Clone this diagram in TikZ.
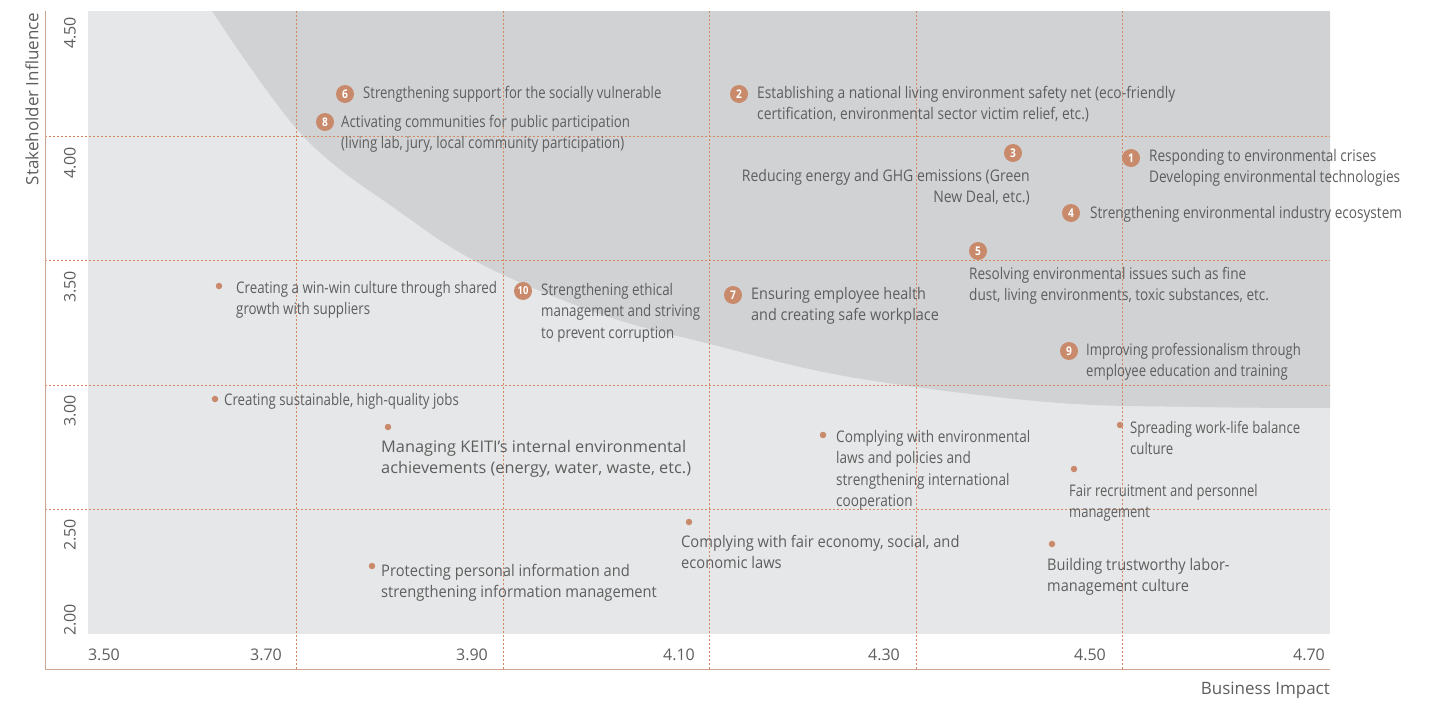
\documentclass[tikz,border=0pt]{standalone}
\usepackage{fontspec}
\setmainfont{Open Sans}[FakeStretch=0.85]
\newfontfamily\tickfont{Open Sans}
\usetikzlibrary{calc}
\definecolor{lightbg}{HTML}{E6E7E8}
\definecolor{darkbg}{HTML}{D1D2D4}
\definecolor{accent}{HTML}{C98A6C}
\definecolor{gridc}{HTML}{D4875E}
\definecolor{axisc}{HTML}{CFA58E}
\definecolor{txt}{HTML}{5E5E5E}
\tikzset{
  lbl/.style={inner sep=0pt, align=left, text=txt, font=\fontsize{16}{21.3}\selectfont, anchor=north west, yshift=-1.5pt},
  lblr/.style={lbl, align=right, anchor=north east},
  sx/.style={xscale=#1, transform shape},
  numc/.style={circle, fill=accent, minimum size=18pt, inner sep=0pt, text=white, font=\bfseries\fontsize{12}{12}\selectfont},
  dotc/.style={circle, fill=accent, minimum size=6.5pt, inner sep=0pt},
  gridl/.style={gridc, dash pattern=on 2pt off 2pt, line width=0.7pt},
  tick/.style={text=txt, font=\tickfont\fontsize{16}{16}\selectfont, inner sep=0pt},
  axtitle/.style={text=txt, font=\tickfont\fontsize{17}{17}\selectfont, inner sep=0pt}
}
\begin{document}
\begin{tikzpicture}[x=1pt,y=-1pt]
\useasboundingbox (0,0) rectangle (1438,704);
% plot background
\fill[lightbg] (88,11) rectangle (1330,634);
\fill[darkbg] plot[smooth, tension=0.6] coordinates {(212,11) (303,136) (400,212) (481,264) (600,314) (710,344) (850,377) (1047,402) (1200,407) (1330,408)} -- (1330,11) -- cycle;
% grid
\foreach \x in {296,503,709,916,1122} \draw[gridl] (\x,11) -- (\x,669);
\foreach \y in {136,260,385,509} \draw[gridl] (45,\y) -- (1330,\y);
% axes
\coordinate (o) at (45,669);
\coordinate (ytop) at (45,11);
\coordinate (xend) at (1330,669);
\draw[axisc, line width=1pt] (ytop) -- (o) -- (xend);
% tick labels
\node[tick, anchor=east] (x350) at (120,655) {3.50};
\node[tick, anchor=east] (x370) at (282,655) {3.70};
\node[tick, anchor=east] (x390) at (488,655) {3.90};
\node[tick, anchor=east] (x410) at (695,655) {4.10};
\node[tick, anchor=east] (x430) at (900,655) {4.30};
\node[tick, anchor=east] (x450) at (1106,655) {4.50};
\node[tick, anchor=east] (x470) at (1325,655) {4.70};
\node[tick, rotate=90] (y450) at (70,33) {4.50};
\node[tick, rotate=90] (y400) at (70,163) {4.00};
\node[tick, rotate=90] (y350) at (70,287) {3.50};
\node[tick, rotate=90] (y300) at (70,411) {3.00};
\node[tick, rotate=90] (y250) at (70,535) {2.50};
\node[tick, rotate=90] (y200) at (70,620) {2.00};
\node[axtitle, rotate=90] (ytitle) at (32,99) {Stakeholder Influence};
\node[axtitle, anchor=east] (xtitle) at (1330,690) {Business Impact};
% numbered items
\node[numc] (n1) at (1131,158) {1};
\node[lbl] (t1) at (1149,145) {\strut Responding to environmental crises\\Developing environmental technologies};
\node[numc] (n2) at (739,94) {2};
\node[lbl, sx=1.015] (t2) at (757,82) {\strut Establishing a national living environment safety net (eco-friendly\\certification, environmental sector victim relief, etc.)};
\node[numc] (n3) at (1013,153) {3};
\node[lblr, sx=1.03] (t3) at (1030,165) {\strut Reducing energy and GHG emissions (Green\\New Deal, etc.)};
\node[numc] (n4) at (1071,213) {4};
\node[lbl] (t4) at (1090,202) {\strut Strengthening environmental industry ecosystem};
\node[numc] (n5) at (978,251) {5};
\node[lbl] (t5) at (969,263) {\strut Resolving environmental issues such as fine\\dust, living environments, toxic substances, etc.};
\node[numc] (n6) at (345,94) {6};
\node[lbl, sx=0.965] (t6) at (363,82) {\strut Strengthening support for the socially vulnerable};
\node[numc] (n7) at (733,295) {7};
\node[lbl, sx=1.06] (t7) at (751,283) {\strut Ensuring employee health\\and creating safe workplace};
\node[numc] (n8) at (325,122) {8};
\node[lbl, sx=0.978] (t8) at (341,111) {\strut Activating communities for public participation\\(living lab, jury, local community participation)};
\node[numc] (n9) at (1069,351) {9};
\node[lbl, sx=0.965] (t9) at (1086,339) {\strut Improving professionalism through\\employee education and training};
\node[numc, font=\bfseries\fontsize{11}{11}\selectfont] (n10) at (523,291) {10};
\node[lbl, sx=0.98] (t10) at (541,279) {\strut Strengthening ethical\\management and striving\\to prevent corruption};
% dot items
\node[dotc] (d1) at (219,286) {};
\node[lbl, sx=0.98] (e1) at (236,277) {\strut Creating a win-win culture through shared\\growth with suppliers};
\node[dotc] (d2) at (215,399) {};
\node[lbl, sx=0.975] (e2) at (224,389) {\strut Creating sustainable, high-quality jobs};
\node[dotc] (d3) at (388,427) {};
\node[lbl, sx=1.2] (e3) at (381,436) {\strut Managing KEITI's internal environmental\\achievements (energy, water, waste, etc.)};
\node[dotc] (d4) at (823,435) {};
\node[lbl] (e4) at (836,426) {\strut Complying with environmental\\laws and policies and\\strengthening international\\cooperation};
\node[dotc] (d5) at (1120,425) {};
\node[lbl, sx=0.97] (e5) at (1130,417) {\strut Spreading work-life balance\\culture};
\node[dotc] (d6) at (1074,469) {};
\node[lbl, sx=0.955] (e6) at (1069,480) {\strut Fair recruitment and personnel\\management};
\node[dotc] (d7) at (689,522) {};
\node[lbl, sx=1.08] (e7) at (681,531) {\strut Complying with fair economy, social, and\\economic laws};
\node[dotc] (d8) at (372,566) {};
\node[lbl, sx=1.08] (e8) at (381,560) {\strut Protecting personal information and\\strengthening information management};
\node[dotc] (d9) at (1052,544) {};
\node[lbl, sx=1.07] (e9) at (1047,554) {\strut Building trustworthy labor-\\management culture};
\end{tikzpicture}
\end{document}
